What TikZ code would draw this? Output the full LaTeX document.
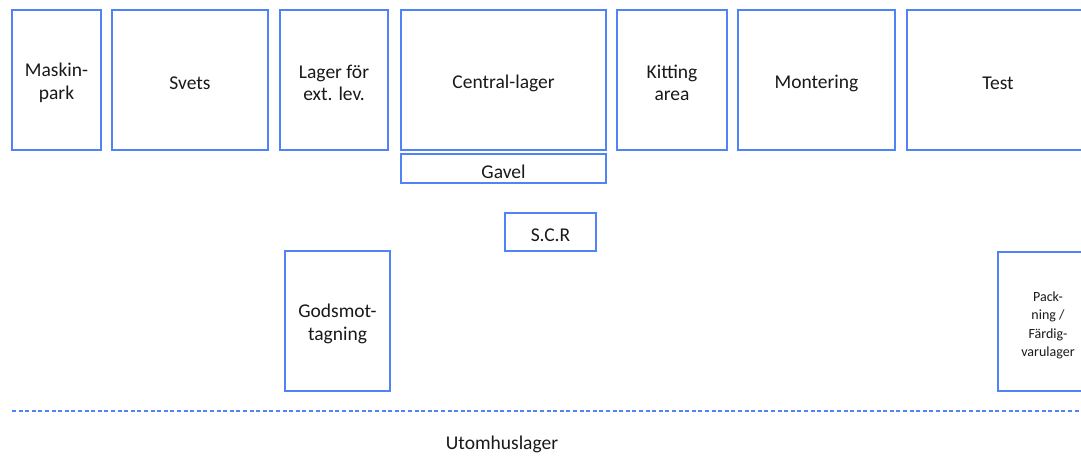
\documentclass[tikz,border=0pt]{standalone}
\usepackage{fontspec}
\setmainfont{Carlito}
\definecolor{boxblue}{RGB}{80,132,246}
\begin{document}
\begin{tikzpicture}[x=1pt,y=-1pt,
  area/.style={draw=boxblue, line width=1.6pt, fill=white, inner sep=0pt},
  lbl/.style={align=center, inner sep=0pt, text=black!90,
    font=\fontsize{19.5}{22.5}\selectfont},
  small/.style={font=\fontsize{14}{18.5}\selectfont}]
\useasboundingbox (0,0) rectangle (1081,455);
\clip (0,0) rectangle (1081,455);
% top row of work areas
\node[area, minimum width=89, minimum height=140] (mask) at (56.5,80) {};
\node[area, minimum width=156, minimum height=140] (svets) at (190,80) {};
\node[area, minimum width=108, minimum height=140] (lager) at (334,80) {};
\node[area, minimum width=205, minimum height=140] (central) at (503.5,80) {};
\node[area, minimum width=110, minimum height=140] (kitting) at (672,80) {};
\node[area, minimum width=157, minimum height=140] (mont) at (816.5,80) {};
\node[area, minimum width=182, minimum height=140] (test) at (998,80) {};
% gable strip and smaller areas
\node[area, minimum width=205, minimum height=29] (gavel) at (503.5,168.5) {};
\node[area, minimum width=91, minimum height=38] (scr) at (550.5,232) {};
\node[area, minimum width=105, minimum height=140] (gods) at (337.5,321) {};
\node[area, minimum width=100, minimum height=139] (pack) at (1048,321.5) {};
% area names, set slightly below each centre
\node[lbl] (mask-t) at ([yshift=-3]mask.center) {Maskin-\\park};
\node[lbl] (svets-t) at ([yshift=-3]svets.center) {Svets};
\node[lbl] (lager-t) at ([yshift=-3]lager.center) {Lager för\\ext. lev.};
\node[lbl] (central-t) at ([yshift=-3]central.center) {Central-lager};
\node[lbl] (kitting-t) at ([yshift=-3]kitting.center) {Kitting\\area};
\node[lbl] (mont-t) at ([yshift=-3]mont.center) {Montering};
\node[lbl] (test-t) at ([yshift=-3]test.center) {Test};
\node[lbl] (gavel-t) at ([yshift=-3]gavel.center) {Gavel};
\node[lbl] (scr-t) at ([yshift=-3]scr.center) {S.C.R};
\node[lbl] (gods-t) at ([yshift=-3]gods.center) {Godsmot-\\tagning};
\node[lbl, small] (pack-t) at ([yshift=-4]pack.center) {Pack-\\ning /\\Färdig-\\varulager};
% outdoor boundary
\coordinate (wl) at (12,411);
\coordinate (wr) at (1090,411);
\draw[boxblue, line width=1.2pt, dash pattern=on 4pt off 2.6pt] (wl) -- (wr);
\node[lbl] (ute) at (502,444) {Utomhuslager};
\end{tikzpicture}
\end{document}
